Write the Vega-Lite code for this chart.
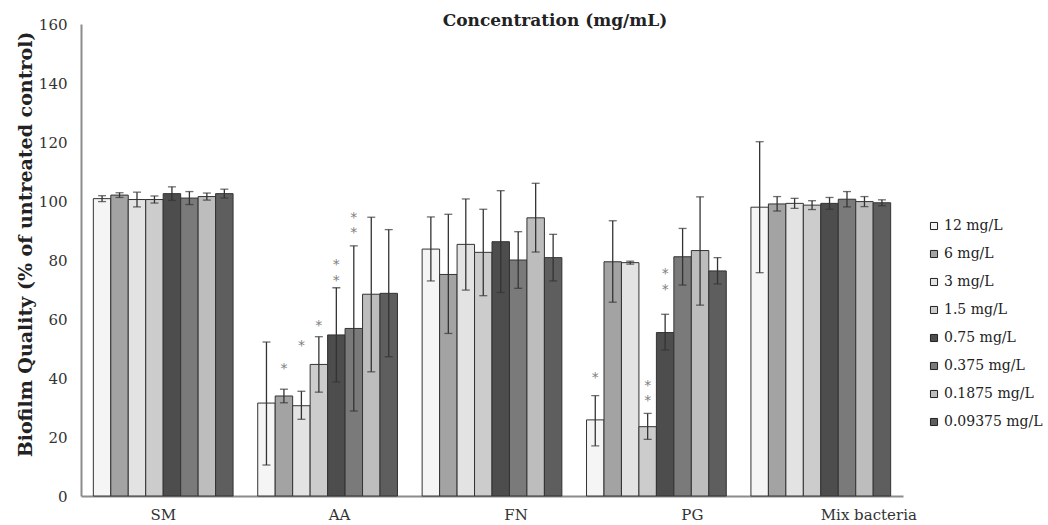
{
  "$schema": "https://vega.github.io/schema/vega-lite/v6.json",
  "width": 822,
  "height": 472,
  "autosize": "none",
  "padding": {"left": 81, "top": 24, "right": 145, "bottom": 29},
  "background": "white",
  "config": {"view": {"stroke": null}, "font": "DejaVu Serif"},
  "title": {"text": "Concentration (mg/mL)", "fontSize": 17, "fontWeight": "bold", "font": "DejaVu Serif", "color": "#222222", "anchor": "middle", "dx": 63, "offset": -13},
  "datasets": {
    "bars": [
      {"group": "SM", "conc": "12 mg/L", "value": 100.8, "lo": 99.8, "hi": 101.8},
      {"group": "SM", "conc": "6 mg/L", "value": 102.0, "lo": 101.2, "hi": 102.8},
      {"group": "SM", "conc": "3 mg/L", "value": 100.5, "lo": 98.0, "hi": 103.0},
      {"group": "SM", "conc": "1.5 mg/L", "value": 100.5, "lo": 99.3, "hi": 101.7},
      {"group": "SM", "conc": "0.75 mg/L", "value": 102.5, "lo": 100.2, "hi": 104.8},
      {"group": "SM", "conc": "0.375 mg/L", "value": 101.0, "lo": 98.8, "hi": 103.2},
      {"group": "SM", "conc": "0.1875 mg/L", "value": 101.5, "lo": 100.3, "hi": 102.7},
      {"group": "SM", "conc": "0.09375 mg/L", "value": 102.5, "lo": 101.0, "hi": 104.0},
      {"group": "AA", "conc": "12 mg/L", "value": 31.5, "lo": 10.5, "hi": 52.2},
      {"group": "AA", "conc": "6 mg/L", "value": 33.9, "lo": 31.6, "hi": 36.2},
      {"group": "AA", "conc": "3 mg/L", "value": 30.6, "lo": 26.0, "hi": 35.5},
      {"group": "AA", "conc": "1.5 mg/L", "value": 44.6, "lo": 35.2, "hi": 54.0},
      {"group": "AA", "conc": "0.75 mg/L", "value": 54.6, "lo": 38.7, "hi": 70.6},
      {"group": "AA", "conc": "0.375 mg/L", "value": 56.8, "lo": 28.8, "hi": 84.8},
      {"group": "AA", "conc": "0.1875 mg/L", "value": 68.4, "lo": 42.1, "hi": 94.5},
      {"group": "AA", "conc": "0.09375 mg/L", "value": 68.7, "lo": 47.2, "hi": 90.3},
      {"group": "FN", "conc": "12 mg/L", "value": 83.7, "lo": 72.9, "hi": 94.6},
      {"group": "FN", "conc": "6 mg/L", "value": 75.1, "lo": 55.1, "hi": 95.5},
      {"group": "FN", "conc": "3 mg/L", "value": 85.3, "lo": 69.8, "hi": 100.7},
      {"group": "FN", "conc": "1.5 mg/L", "value": 82.6, "lo": 67.9, "hi": 97.2},
      {"group": "FN", "conc": "0.75 mg/L", "value": 86.2, "lo": 69.0, "hi": 103.5},
      {"group": "FN", "conc": "0.375 mg/L", "value": 80.0, "lo": 70.4, "hi": 89.6},
      {"group": "FN", "conc": "0.1875 mg/L", "value": 94.3, "lo": 82.7, "hi": 106.0},
      {"group": "FN", "conc": "0.09375 mg/L", "value": 80.8, "lo": 72.9, "hi": 88.7},
      {"group": "PG", "conc": "12 mg/L", "value": 25.8, "lo": 17.0, "hi": 34.0},
      {"group": "PG", "conc": "6 mg/L", "value": 79.4, "lo": 65.7, "hi": 93.3},
      {"group": "PG", "conc": "3 mg/L", "value": 79.1, "lo": 78.6, "hi": 79.6},
      {"group": "PG", "conc": "1.5 mg/L", "value": 23.5, "lo": 19.2, "hi": 28.0},
      {"group": "PG", "conc": "0.75 mg/L", "value": 55.4, "lo": 49.5, "hi": 61.6},
      {"group": "PG", "conc": "0.375 mg/L", "value": 81.1, "lo": 71.5, "hi": 90.7},
      {"group": "PG", "conc": "0.1875 mg/L", "value": 83.2, "lo": 64.7, "hi": 101.4},
      {"group": "PG", "conc": "0.09375 mg/L", "value": 76.3, "lo": 71.9, "hi": 80.8},
      {"group": "Mix bacteria", "conc": "12 mg/L", "value": 97.9, "lo": 75.7, "hi": 120.1},
      {"group": "Mix bacteria", "conc": "6 mg/L", "value": 99.0, "lo": 96.6, "hi": 101.5},
      {"group": "Mix bacteria", "conc": "3 mg/L", "value": 99.2, "lo": 97.5, "hi": 100.9},
      {"group": "Mix bacteria", "conc": "1.5 mg/L", "value": 98.6, "lo": 97.1, "hi": 100.1},
      {"group": "Mix bacteria", "conc": "0.75 mg/L", "value": 99.2, "lo": 97.2, "hi": 101.2},
      {"group": "Mix bacteria", "conc": "0.375 mg/L", "value": 100.6, "lo": 98.0, "hi": 103.2},
      {"group": "Mix bacteria", "conc": "0.1875 mg/L", "value": 99.8, "lo": 98.1, "hi": 101.5},
      {"group": "Mix bacteria", "conc": "0.09375 mg/L", "value": 99.4, "lo": 98.4, "hi": 100.4}
    ],
    "stars": [
      {"group": "AA", "conc": "6 mg/L", "value": 44.2},
      {"group": "AA", "conc": "3 mg/L", "value": 52.0},
      {"group": "AA", "conc": "1.5 mg/L", "value": 58.7},
      {"group": "AA", "conc": "0.75 mg/L", "value": 79.4},
      {"group": "AA", "conc": "0.75 mg/L", "value": 74.0},
      {"group": "AA", "conc": "0.375 mg/L", "value": 95.3},
      {"group": "AA", "conc": "0.375 mg/L", "value": 90.2},
      {"group": "PG", "conc": "12 mg/L", "value": 41.0},
      {"group": "PG", "conc": "1.5 mg/L", "value": 38.4},
      {"group": "PG", "conc": "1.5 mg/L", "value": 33.1},
      {"group": "PG", "conc": "0.75 mg/L", "value": 76.4},
      {"group": "PG", "conc": "0.75 mg/L", "value": 70.7}
    ]
  },
  "data": {"name": "bars"},
  "encoding": {
    "x": {
      "field": "group", "type": "nominal",
      "sort": ["SM", "AA", "FN", "PG", "Mix bacteria"],
      "scale": {"paddingInner": 0.15, "paddingOuter": 0.075},
      "axis": {
        "title": null, "labelAngle": 0, "ticks": false,
        "domainColor": "#8c8c8c", "domainWidth": 2,
        "labelFontSize": 15, "labelColor": "#333333", "labelPadding": 11, "labelFont": "DejaVu Serif",
        "labelOffset": {"expr": "indexof(['SM','AA','FN','PG','Mix bacteria'], datum.value) * 12"}
      }
    },
    "xOffset": {
      "field": "conc", "type": "nominal",
      "sort": ["12 mg/L", "6 mg/L", "3 mg/L", "1.5 mg/L", "0.75 mg/L", "0.375 mg/L", "0.1875 mg/L", "0.09375 mg/L"],
      "scale": {"paddingInner": 0, "paddingOuter": 0}
    }
  },
  "layer": [
    {
      "mark": {"type": "bar", "stroke": "#333333", "strokeWidth": 1},
      "encoding": {
        "y": {
          "field": "value", "type": "quantitative",
          "scale": {"domain": [0, 160]},
          "title": "Biofilm Quality (% of untreated control)",
          "axis": {
            "titleFontSize": 19, "titleFontWeight": "bold", "titleColor": "#222222", "titleFont": "DejaVu Serif",
            "titlePadding": 3, "titleY": 220,
            "values": [0, 20, 40, 60, 80, 100, 120, 140, 160],
            "ticks": false, "grid": false,
            "domainColor": "#8c8c8c", "domainWidth": 2,
            "labelFontSize": 15, "labelColor": "#333333", "labelPadding": 14, "labelFont": "DejaVu Serif"
          }
        },
        "fill": {
          "field": "conc", "type": "nominal",
          "scale": {
            "domain": ["12 mg/L", "6 mg/L", "3 mg/L", "1.5 mg/L", "0.75 mg/L", "0.375 mg/L", "0.1875 mg/L", "0.09375 mg/L"],
            "range": ["#f5f5f5", "#a3a3a3", "#e3e3e3", "#cccccc", "#4d4d4d", "#7a7a7a", "#bdbdbd", "#5e5e5e"]
          },
          "legend": {
            "title": null, "orient": "none", "legendX": 846, "legendY": 195,
            "symbolType": "square", "symbolSize": 50, "symbolStrokeColor": "#222222", "symbolStrokeWidth": 1,
            "labelFontSize": 14, "labelFont": "DejaVu Serif", "labelColor": "#222222",
            "rowPadding": 14, "labelOffset": 3
          }
        }
      }
    },
    {
      "mark": {"type": "rule", "color": "#333333", "strokeWidth": 1.3},
      "encoding": {
        "y": {"field": "lo", "type": "quantitative", "title": "Biofilm Quality (% of untreated control)"},
        "y2": {"field": "hi"}
      }
    },
    {
      "mark": {"type": "tick", "color": "#333333", "thickness": 1.3, "size": 8},
      "encoding": {"y": {"field": "hi", "type": "quantitative", "title": "Biofilm Quality (% of untreated control)"}}
    },
    {
      "mark": {"type": "tick", "color": "#333333", "thickness": 1.3, "size": 8},
      "encoding": {"y": {"field": "lo", "type": "quantitative", "title": "Biofilm Quality (% of untreated control)"}}
    },
    {
      "data": {"name": "stars"},
      "mark": {"type": "text", "text": "*", "font": "DejaVu Sans", "fontSize": 14, "fill": "#808080", "baseline": "middle", "dy": 3},
      "encoding": {"y": {"field": "value", "type": "quantitative", "title": "Biofilm Quality (% of untreated control)"}}
    }
  ]
}
